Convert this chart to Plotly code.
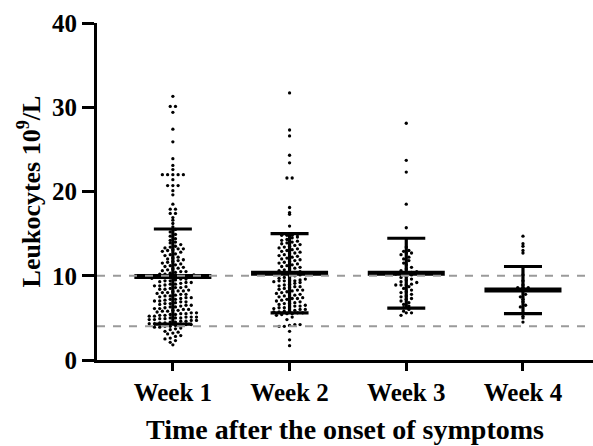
import plotly.graph_objects as go

categories = ["Week 1", "Week 2", "Week 3", "Week 4"]
tick_vals_y = [0, 10, 20, 30, 40]

week1 = [1.8, 2.1, 2.3, 2.5, 2.6, 2.8, 2.9, 3.1, 3.2, 3.3, 3.4, 3.6, 3.7, 3.8, 3.9, 3.9,
         4.0, 4.0, 4.1, 4.1, 4.2, 4.2, 4.3, 4.3, 4.4, 4.4, 4.5, 4.5, 4.6, 4.6, 4.7, 4.7, 4.8, 4.8,
         4.9, 4.9, 5.0, 5.0, 5.0, 5.1, 5.1, 5.1, 5.2, 5.2,
         5.3, 5.3, 5.4, 5.4, 5.5, 5.5, 5.6, 5.6, 5.7, 5.8, 5.8, 5.9, 5.9, 6.0, 6.0,
         6.1, 6.1, 6.2, 6.3, 6.3, 6.4, 6.5, 6.5, 6.6, 6.7, 6.7, 6.8, 6.9, 6.9, 7.0, 7.0,
         7.1, 7.2, 7.2, 7.3, 7.4, 7.4, 7.5, 7.6, 7.6, 7.7, 7.8, 7.8, 7.9, 8.0, 8.0,
         8.1, 8.2, 8.2, 8.3, 8.4, 8.4, 8.5, 8.6, 8.6, 8.7, 8.8, 8.8, 8.9, 9.0, 9.0,
         9.1, 9.2, 9.2, 9.3, 9.4, 9.4, 9.5, 9.6, 9.6, 9.7, 9.8, 9.8, 9.9, 9.9, 10.0, 10.0, 10.0,
         10.1, 10.2, 10.2, 10.3, 10.4, 10.5, 10.5, 10.6, 10.7, 10.8, 10.9, 11.0,
         11.1, 11.2, 11.3, 11.4, 11.5, 11.6, 11.7, 11.8, 11.9, 12.0,
         12.1, 12.2, 12.4, 12.5, 12.6, 12.8, 12.9, 13.0,
         13.1, 13.2, 13.2, 13.3, 13.4, 13.5, 13.7, 13.9,
         14.0, 14.2, 14.4, 14.7, 14.9,
         15.2, 15.5, 15.8, 16.2, 16.6, 16.9,
         17.4, 17.4, 17.9, 17.9, 18.5, 19.6, 20.1, 20.7, 20.7, 20.7, 21.4,
         22.0, 22.0, 22.0, 22.0, 22.0, 22.6, 23.1, 23.9, 25.9, 27.4, 29.4, 30.1, 30.1, 31.3]

week2 = [1.7, 2.4, 3.4, 4.0, 4.0, 4.1, 4.2, 4.2,
         4.8, 5.1, 5.3, 5.4, 5.5, 5.5, 5.6, 5.6, 5.7, 5.7, 5.8, 5.8, 5.9, 6.0, 6.0,
         6.1, 6.2, 6.2, 6.3, 6.4, 6.4, 6.5, 6.6, 6.7, 6.7, 6.8, 6.9, 7.0,
         7.1, 7.2, 7.3, 7.3, 7.4, 7.5, 7.6, 7.6, 7.7, 7.8, 7.9, 8.0,
         8.1, 8.2, 8.3, 8.3, 8.4, 8.5, 8.6, 8.7, 8.7, 8.8, 8.9, 9.0,
         9.1, 9.2, 9.3, 9.4, 9.4, 9.4, 9.4, 9.5, 9.6, 9.7, 9.8, 9.9, 10.0,
         10.1, 10.2, 10.3, 10.3, 10.4, 10.5, 10.6, 10.7, 10.8, 10.9, 11.0,
         11.1, 11.2, 11.3, 11.4, 11.5, 11.6, 11.7, 11.8, 11.9, 12.0,
         12.1, 12.2, 12.3, 12.4, 12.5, 12.6, 12.7, 12.8, 12.9, 13.0,
         13.1, 13.2, 13.3, 13.4, 13.5, 13.6, 13.7, 13.8, 13.9,
         14.0, 14.1, 14.2, 14.3, 14.5, 14.6, 14.8, 14.8, 14.8, 14.9,
         15.9, 17.3, 17.5, 18.1, 21.6, 21.6, 23.4, 24.3, 26.6, 27.3, 31.7]

week3 = [5.3, 5.6, 5.6, 5.8, 6.0, 6.2, 6.4, 6.6, 6.8, 7.0, 7.2, 7.3, 7.5, 7.6, 7.8, 8.0,
         8.1, 8.3, 8.5, 8.7, 8.9, 8.9, 8.9, 9.0, 9.2, 9.3, 9.5, 9.6, 9.8, 9.9, 10.1, 10.2,
         10.3, 10.3, 10.4, 10.5, 10.6, 10.8, 11.0, 11.3, 11.5, 11.8, 12.0, 12.2, 12.5, 12.7,
         12.7, 12.9, 13.0, 13.4, 15.7, 18.5, 22.3, 23.7, 28.1]

week4 = [4.5, 5.0, 5.2, 6.3, 6.5, 6.9, 7.2, 7.5, 7.8, 8.3, 8.6, 8.6, 8.6, 8.9, 9.4,
         10.1, 12.7, 13.0, 13.5, 13.8, 14.7]

means = [9.9, 10.3, 10.3, 8.3]
sds = [5.65, 4.7, 4.15, 2.8]
ref_lines = [10, 4]

groups = [week1, week2, week3, week4]

FONT = "Liberation Serif"


def swarm(values, center, bin_w=0.45, dx=0.045):
    bins = {}
    for v in values:
        bins.setdefault(round(v / bin_w), []).append(v)
    xs, ys = [], []
    for k in sorted(bins):
        vals = bins[k]
        n = len(vals)
        for j, v in enumerate(vals):
            xs.append(center + (j - (n - 1) / 2) * dx)
            ys.append(v)
    return xs, ys


fig = go.Figure()

for i, vals in enumerate(groups):
    c = i + 1
    xs, ys = swarm(vals, c)
    fig.add_trace(go.Scatter(x=xs, y=ys, mode="markers",
                             marker=dict(color="black", size=3.3),
                             showlegend=False, hoverinfo="y"))

for i in range(4):
    c = i + 1
    fig.add_trace(go.Scatter(x=[c], y=[means[i]], mode="markers",
                             marker=dict(size=0.1, color="black"),
                             error_y=dict(type="data", array=[sds[i]], visible=True,
                                          color="black", thickness=3.2, width=19),
                             showlegend=False, hoverinfo="skip"))
    fig.add_trace(go.Scatter(x=[c - 0.33, c + 0.33], y=[means[i], means[i]], mode="lines",
                             line=dict(color="black", width=5),
                             showlegend=False, hoverinfo="skip"))

for r in ref_lines:
    fig.add_shape(type="line", xref="paper", x0=0, x1=1, yref="y", y0=r, y1=r,
                  line=dict(color="#9a9a9a", width=2, dash="8px,8px"), layer="above")

fig.update_layout(
    width=593, height=446,
    margin=dict(l=97, r=0, t=23, b=86),
    plot_bgcolor="white", paper_bgcolor="white",
    font=dict(family=FONT, color="black", size=18),
)

fig.update_xaxes(
    range=[0.35, 4.6], tickmode="array", tickvals=[1, 2, 3, 4], ticktext=categories,
    showline=True, linecolor="black", linewidth=3, ticks="outside", ticklen=8,
    tickwidth=3, tickcolor="black", showgrid=False, zeroline=False, automargin=False,
    tickfont=dict(family=FONT, size=25, weight="bold"),
    title=dict(text="Time after the onset of symptoms", standoff=15,
               font=dict(family=FONT, size=28, weight="bold")),
)
fig.update_yaxes(
    range=[0, 40], tickmode="array", tickvals=tick_vals_y,
    showline=True, linecolor="black", linewidth=3, ticks="outside", ticklen=12,
    tickwidth=3, tickcolor="black", showgrid=False, zeroline=False, automargin=False,
    tickfont=dict(family=FONT, size=25, weight="bold"),
    title=dict(text="Leukocytes 10<sup>9</sup>/L", standoff=4,
               font=dict(family=FONT, size=26, weight="bold")),
)

fig.write_html("out.html")
